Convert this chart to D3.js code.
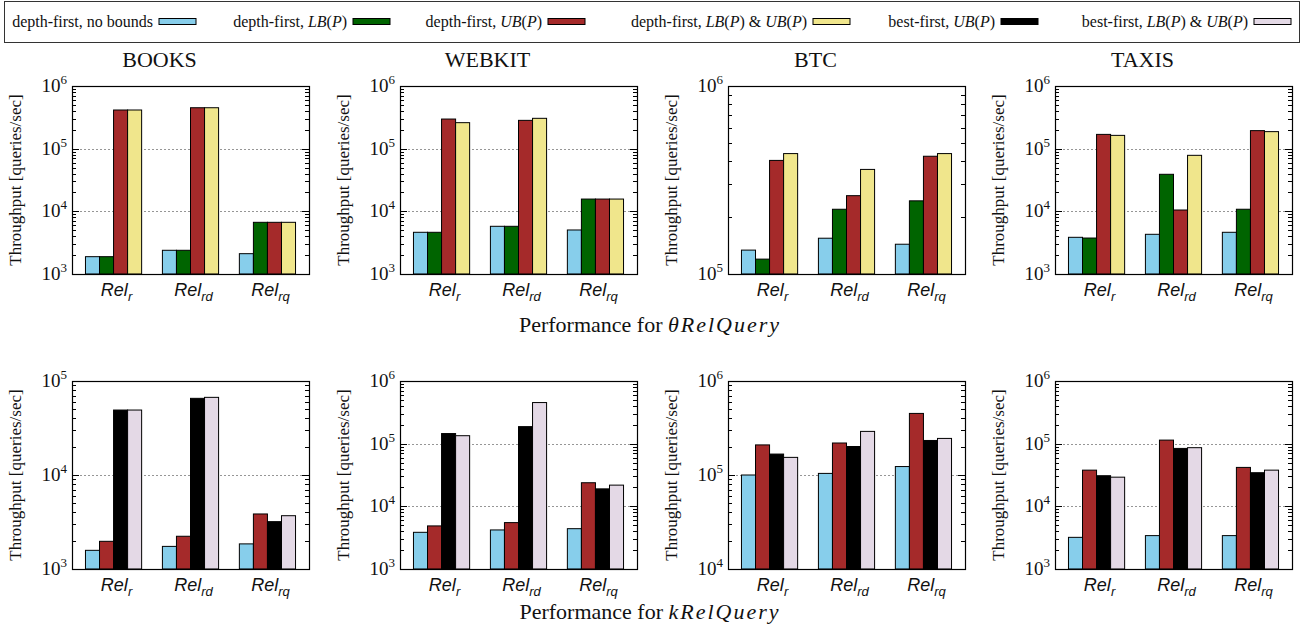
<!DOCTYPE html>
<html><head><meta charset="utf-8">
<script src="https://cdn.jsdelivr.net/npm/d3@7"></script>
<style>body{margin:0;background:#fff}svg{display:block}</style>
</head><body><svg id="c" width="1310" height="643"></svg>
<script>
// ---------- data ----------
const categories = ["r", "rd", "rq"];
const datasets = ["BOOKS", "WEBKIT", "BTC", "TAXIS"];

// legend labels as [text, italic] segments
const legendLabels = [
  [["depth-first, no bounds", false]],
  [["depth-first, ", false], ["LB", true], ["(", false], ["P", true], [")", false]],
  [["depth-first, ", false], ["UB", true], ["(", false], ["P", true], [")", false]],
  [["depth-first, ", false], ["LB", true], ["(", false], ["P", true], [") & ", false], ["UB", true], ["(", false], ["P", true], [")", false]],
  [["best-first, ", false], ["UB", true], ["(", false], ["P", true], [")", false]],
  [["best-first, ", false], ["LB", true], ["(", false], ["P", true], [") & ", false], ["UB", true], ["(", false], ["P", true], [")", false]]
];

// y-axis domains per dataset
const thetaDomains = [[1e3, 1e6], [1e3, 1e6], [1e5, 1e6], [1e3, 1e6]];
const kDomains = [[1e3, 1e5], [1e3, 1e6], [1e4, 1e6], [1e3, 1e6]];

// theta RelQuery: one array per series, rows = datasets, cols = categories
const thetaDfNoBounds = [[1890, 2390, 2110], [4630, 5770, 5040], [134000, 155000, 144000], [3850, 4300, 4630]];
const thetaDfLB       = [[1890, 2390, 6680], [4630, 5770, 15700], [120000, 221000, 245000], [3750, 39000, 10800]];
const thetaDfUB       = [[414000, 450000, 6680], [297000, 283000, 15700], [402000, 261000, 423000], [169000, 10500, 194000]];
const thetaDfLBUB     = [[414000, 450000, 6680], [260000, 305000, 15700], [437000, 360000, 437000], [163000, 78300, 187000]];

// k RelQuery
const kDfNoBounds = [[1580, 1740, 1850], [3850, 4200, 4400], [100000, 104000, 123000], [3200, 3410, 3410]];
const kDfUB       = [[1970, 2230, 3850], [4870, 5500, 23800], [209000, 219000, 452000], [37800, 114000, 41800]];
const kBfUB       = [[49100, 65400, 3190], [145000, 187000, 19000], [167000, 201000, 233000], [30800, 84000, 34400]];
const kBfLBUB     = [[49100, 67000, 3690], [134000, 453000, 21800], [154000, 291000, 245000], [29200, 86300, 37800]];

// ---------- styles ----------
const seriesColors = ["#87ceeb", "#006400", "#a52a2a", "#f0e68c", "#000000", "#e4d9e6"];
const SERIF = "'Liberation Serif','DejaVu Serif',serif";
const SANS = "'Liberation Sans',Arial,sans-serif";

const svg = d3.select("#c");

// ---------- legend ----------
svg.append("rect").attr("x", 4.5).attr("y", 1.5).attr("width", 1295).attr("height", 41)
  .attr("fill", "none").attr("stroke", "#333").attr("stroke-width", 1);
const swatchRight = [196, 390, 585, 850, 1038, 1291];
legendLabels.forEach((segs, i) => {
  const r = swatchRight[i];
  svg.append("rect").attr("x", r - 37).attr("y", 18.5).attr("width", 37).attr("height", 6)
    .attr("fill", seriesColors[i]).attr("stroke", "#000").attr("stroke-width", 1);
  const t = svg.append("text").attr("x", r - 43).attr("y", 27).attr("text-anchor", "end")
    .attr("font-family", SERIF).attr("font-size", 16).attr("fill", "#111");
  segs.forEach(([s, it]) => t.append("tspan").text(s).attr("font-style", it ? "italic" : "normal"));
});

// ---------- panels ----------
const lefts = [72, 400, 728, 1055];
const W = 237;
const rows = [
  { top: 86, bot: 274, domains: thetaDomains, series: [thetaDfNoBounds, thetaDfLB, thetaDfUB, thetaDfLBUB], colorIdx: [0, 1, 2, 3], titles: true },
  { top: 381, bot: 569, domains: kDomains, series: [kDfNoBounds, kDfUB, kBfUB, kBfLBUB], colorIdx: [0, 2, 4, 5], titles: false }
];

rows.forEach(row => {
  datasets.forEach((ds, di) => {
    const L = lefts[di], R = L + W;
    const g = svg.append("g");
    const y = d3.scaleLog().domain(row.domains[di]).range([row.bot, row.top]);
    const x = d3.scaleBand().domain(categories).range([L, R]).paddingInner(0.27).paddingOuter(0.175);
    const xs = d3.scaleBand().domain(d3.range(row.series.length)).range([0, x.bandwidth()]);
    const ticks = y.ticks();
    const isMajor = t => Math.abs(Math.log10(t) - Math.round(Math.log10(t))) < 1e-9;

    // grid
    ticks.filter(t => isMajor(t) && y(t) > row.top + 1 && y(t) < row.bot - 1).forEach(t => {
      g.append("line").attr("x1", L).attr("x2", R).attr("y1", Math.round(y(t)) + 0.5).attr("y2", Math.round(y(t)) + 0.5)
        .attr("stroke", "#8a8a8a").attr("stroke-width", 0.9).attr("stroke-dasharray", "2,2");
    });

    // bars
    row.series.forEach((arr, si) => {
      categories.forEach((c, ci) => {
        const v = arr[di][ci];
        const yy = y(v);
        g.append("rect")
          .attr("x", x(c) + xs(si)).attr("y", yy)
          .attr("width", xs.bandwidth()).attr("height", row.bot - yy)
          .attr("fill", seriesColors[row.colorIdx[si]])
          .attr("stroke", "#000").attr("stroke-width", 1);
      });
    });

    // frame
    g.append("rect").attr("x", L + 0.5).attr("y", row.top + 0.5).attr("width", W).attr("height", row.bot - row.top)
      .attr("fill", "none").attr("stroke", "#000").attr("stroke-width", 1.2);

    // ticks
    ticks.forEach(t => {
      const yy = Math.round(y(t)) + 0.5;
      const len = isMajor(t) ? 7 : 4;
      g.append("line").attr("x1", L).attr("x2", L + len).attr("y1", yy).attr("y2", yy).attr("stroke", "#000").attr("stroke-width", 1);
      g.append("line").attr("x1", R).attr("x2", R - len).attr("y1", yy).attr("y2", yy).attr("stroke", "#000").attr("stroke-width", 1);
      if (isMajor(t)) {
        const tx = g.append("text").attr("x", L - 5).attr("y", y(t) + 6).attr("text-anchor", "end")
          .attr("font-family", SERIF).attr("font-size", 19).attr("fill", "#111");
        tx.append("tspan").text("10");
        tx.append("tspan").text(String(Math.round(Math.log10(t)))).attr("font-size", 13).attr("dy", -8);
      }
    });

    // y-axis title
    g.append("text").attr("transform", `translate(${L - 51},${(row.top + row.bot) / 2}) rotate(-90)`)
      .attr("text-anchor", "middle").attr("font-family", SERIF).attr("font-size", 17).attr("fill", "#111")
      .text("Throughput [queries/sec]");

    // x labels
    categories.forEach(c => {
      const t = g.append("text").attr("x", x(c) + x.bandwidth() / 2 + 3).attr("y", row.bot + 22)
        .attr("text-anchor", "middle").attr("font-family", SANS).attr("font-style", "italic")
        .attr("font-size", 18).attr("fill", "#111");
      t.append("tspan").text("Rel");
      t.append("tspan").text(c).attr("font-size", 13).attr("dy", 5);
    });

    // title
    if (row.titles) {
      g.append("text").attr("x", (L + R) / 2 - 31).attr("y", 67).attr("text-anchor", "middle")
        .attr("font-family", SERIF).attr("font-size", 22).attr("fill", "#111").text(ds);
    }
  });
});

// ---------- captions ----------
const captions = [["Performance for ", "θRelQuery", 332], ["Performance for ", "kRelQuery", 619]];
captions.forEach(([a, b, yy]) => {
  const t = svg.append("text").attr("x", 650).attr("y", yy).attr("text-anchor", "middle")
    .attr("font-family", SERIF).attr("font-size", 22).attr("fill", "#111");
  t.append("tspan").text(a);
  t.append("tspan").text(b).attr("font-style", "italic").attr("letter-spacing", 2);
});
</script></body></html>
